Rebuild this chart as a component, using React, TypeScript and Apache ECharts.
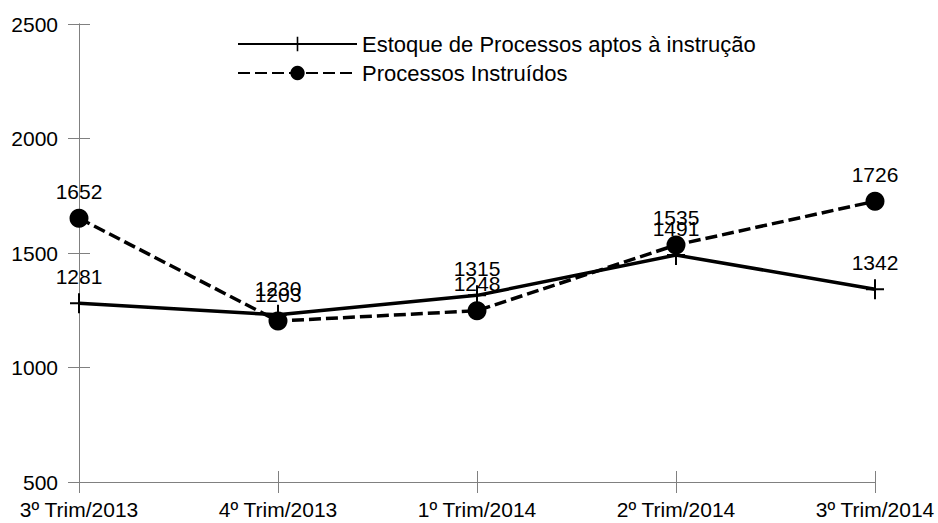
import React, { useEffect, useRef } from "react";
import * as echarts from "echarts";

const categories = ["3º Trim/2013", "4º Trim/2013", "1º Trim/2014", "2º Trim/2014", "3º Trim/2014"];
const estoque = [1281, 1230, 1315, 1491, 1342];
const instruidos = [1652, 1203, 1248, 1535, 1726];
const seriesNames = ["Estoque de Processos aptos à instrução", "Processos Instruídos"];

const FONT = "'Liberation Sans', Arial, sans-serif";
const PLUS = "path://M-1,-10 H1 V10 H-1 Z M-9,-1 H9 V1 H-9 Z";

export default function App() {
  const ref = useRef<HTMLDivElement>(null);
  useEffect(() => {
    if (!ref.current) return;
    const chart = echarts.init(ref.current, null, { renderer: "svg" });
    const axisColor = "#808080";
    chart.setOption({
      animation: false,
      backgroundColor: "#ffffff",
      textStyle: { fontFamily: FONT },
      grid: { left: 79, right: 63, top: 24, bottom: 41, containLabel: false },
      legend: {
        orient: "vertical",
        left: 237,
        top: 33,
        padding: 0,
        itemWidth: 119,
        itemHeight: 18,
        itemGap: 7,
        textStyle: { fontSize: 22, color: "#000", fontFamily: FONT },
        data: seriesNames,
      },
      xAxis: [
        {
          type: "category",
          data: categories,
          boundaryGap: false,
          axisLine: { show: true, lineStyle: { color: axisColor, width: 1 } },
          axisTick: { show: true, inside: false, length: 11, lineStyle: { color: axisColor } },
          axisLabel: { color: "#000", fontSize: 21, margin: 17, fontFamily: FONT },
          splitLine: { show: false },
        },
        {
          type: "category",
          data: categories,
          boundaryGap: false,
          position: "bottom",
          offset: 0,
          axisLine: { show: true, lineStyle: { color: axisColor, width: 1 } },
          axisTick: { show: true, inside: true, length: 11, lineStyle: { color: axisColor } },
          axisLabel: { show: false },
          splitLine: { show: false },
        },
      ],
      yAxis: [
        {
          type: "value",
          min: 500,
          max: 2500,
          interval: 500,
          axisLine: { show: true, lineStyle: { color: axisColor, width: 1 } },
          axisTick: { show: true, inside: false, length: 11, lineStyle: { color: axisColor } },
          axisLabel: {
            color: "#000",
            fontSize: 21,
            margin: 21,
            fontFamily: FONT,
            formatter: (v: number) => String(v),
          },
          splitLine: { show: false },
        },
        {
          type: "value",
          min: 500,
          max: 2500,
          interval: 500,
          position: "left",
          offset: 0,
          axisLine: { show: true, lineStyle: { color: axisColor, width: 1 } },
          axisTick: { show: true, inside: true, length: 11, lineStyle: { color: axisColor } },
          axisLabel: { show: false },
          splitLine: { show: false },
        },
      ],
      series: [
        {
          name: seriesNames[0],
          type: "line",
          data: estoque,
          symbol: PLUS,
          symbolSize: [18, 20],
          showAllSymbol: true,
          lineStyle: { color: "#000", width: 3.5, type: "solid" },
          itemStyle: { color: "#000" },
          label: { show: true, position: "top", distance: 6, fontSize: 21, color: "#000", fontFamily: FONT },
          z: 3,
        },
        {
          name: seriesNames[1],
          type: "line",
          data: instruidos,
          symbol: "circle",
          symbolSize: 19,
          showAllSymbol: true,
          lineStyle: { color: "#000", width: 3.5, type: [12, 5] },
          itemStyle: { color: "#000" },
          label: { show: true, position: "top", distance: 7, fontSize: 21, color: "#000", fontFamily: FONT },
          z: 2,
        },
      ],
    });
    return () => chart.dispose();
  }, []);
  return <div ref={ref} style={{ position: "fixed", left: 0, top: 0, width: 938, height: 523 }} />;
}
